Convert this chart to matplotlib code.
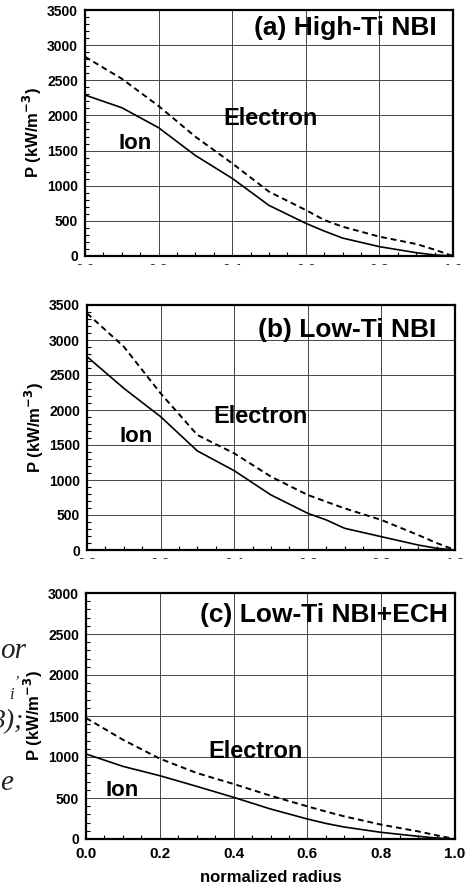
import numpy as np
import matplotlib
matplotlib.use('Agg')
import matplotlib.pyplot as plt
from matplotlib.ticker import MultipleLocator
from matplotlib.patches import Rectangle

plt.rcParams['font.family'] = ['Liberation Sans', 'DejaVu Sans']
plt.rcParams['font.weight'] = 'bold'

# normalized radius
r = [0.0, 0.1, 0.2, 0.3, 0.4, 0.5, 0.6, 0.65, 0.7, 0.8, 0.9, 0.95, 1.0]

# (a) High-Ti NBI
ion_a = [2290, 2110, 1825, 1430, 1105, 720, 465, 355, 255, 133, 47, 15, 0]
ele_a = [2835, 2522, 2134, 1697, 1318, 915, 654, 512, 417, 275, 171, 90, 0]

# (b) Low-Ti NBI
ion_b = [2762, 2310, 1905, 1415, 1133, 786, 524, 430, 310, 190, 71, 25, 0]
ele_b = [3381, 2905, 2238, 1643, 1381, 1048, 786, 690, 595, 429, 214, 100, 0]

# (c) Low-Ti NBI+ECH
ion_c = [1037, 886, 772, 642, 508, 366, 244, 190, 146, 81, 33, 12, 0]
ele_c = [1476, 1211, 980, 805, 671, 528, 398, 335, 276, 175, 93, 45, 0]

titles = ['(a) High-Ti NBI', '(b) Low-Ti NBI', '(c) Low-Ti NBI+ECH']
ymaxes = [3500, 3500, 3000]
# label anchors: title (x frac, y data), electron (x, y), ion (x, y)
title_pos = [(0.955, 3250), (0.950, 3150), (0.982, 2736)]
ele_pos = [(0.375, 1958), (0.343, 1905), (0.332, 1061)]
ion_pos = [(0.09, 1603), (0.089, 1619), (0.054, 593)]

W, H = 475, 886
fig = plt.figure(figsize=(W / 100, H / 100), dpi=100)

boxes = [(85, 10, 368, 246), (87, 305, 368, 245), (86, 593, 369, 246)]
axes = []
for (l, t, w, h) in boxes:
    axes.append(fig.add_axes([l / W, 1 - (t + h) / H, w / W, h / H]))

data = [(ion_a, ele_a), (ion_b, ele_b), (ion_c, ele_c)]
for i, ax in enumerate(axes):
    ion, ele = data[i]
    ax.plot(r, ion, color='black', lw=1.2)
    ax.plot(r, ele, color='black', lw=1.4, linestyle=(0, (3, 2)))
    ax.set_xlim(0, 1)
    ax.set_ylim(0, ymaxes[i])
    ax.xaxis.set_major_locator(MultipleLocator(0.2))
    ax.xaxis.set_minor_locator(MultipleLocator(0.05))
    ax.yaxis.set_major_locator(MultipleLocator(500))
    ax.yaxis.set_minor_locator(MultipleLocator(100))
    ax.xaxis.set_major_formatter(plt.FormatStrFormatter('%.1f'))
    ax.grid(True, which='major', color='#444444', lw=0.7)
    ax.tick_params(which='both', direction='in', top=False, right=False)
    ax.tick_params(which='major', length=0, labelsize=10, pad=5)
    ax.tick_params(which='minor', length=3, width=0.8)
    for s in ax.spines.values():
        s.set_linewidth(1.6)
    ax.set_ylabel('P (kW/m$^{\\mathbf{-3}}$)', fontsize=12, fontweight='bold', labelpad=2)
    ax.text(title_pos[i][0], title_pos[i][1], titles[i], transform=ax.get_yaxis_transform(),
            ha='right', va='center', fontsize=19, fontweight='bold')
    ax.text(ele_pos[i][0], ele_pos[i][1], 'Electron', ha='left', va='center',
            fontsize=17, fontweight='bold')
    ax.text(ion_pos[i][0], ion_pos[i][1], 'Ion', ha='left', va='center',
            fontsize=16, fontweight='bold')
    if i == 2:
        ax.tick_params(axis='x', labelsize=11, pad=6)
        ax.set_xlabel('normalized radius', fontsize=12, fontweight='bold', labelpad=6)

# x tick labels of the upper panels are cut off by the next panel
for top, hgt in [(265, 33), (559, 28)]:
    fig.patches.append(Rectangle((0, 1 - (top + hgt) / H), 1, hgt / H,
                                 transform=fig.transFigure, color='white', zorder=10))

# fragments of the neighbouring page text on the left edge
serif = dict(family='Liberation Serif', style='italic', fontweight='normal', color='#222222')
fig.text(0.0, 1 - 651 / H, 'or', fontsize=21, va='center', ha='left', **serif)
fig.text(15 / W, 1 - 674 / H, ',', fontsize=11, va='center', ha='left', **serif)
fig.text(9 / W, 1 - 695 / H, 'i', fontsize=12, va='center', ha='left', **serif)
fig.text(-9 / W, 1 - 722 / H, '3);', fontsize=20, va='center', ha='left', **serif)
fig.text(0.0, 1 - 783 / H, 'e', fontsize=21, va='center', ha='left', **serif)

fig.savefig('out.png', dpi=100)
